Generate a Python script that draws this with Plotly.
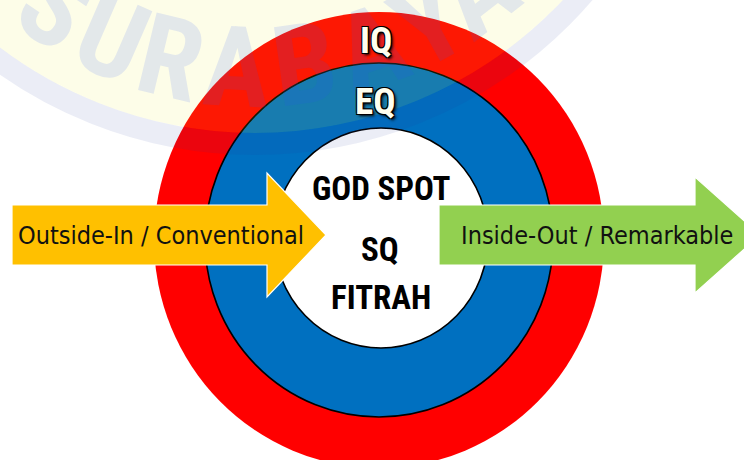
import plotly.graph_objects as go
import math

# ---------------- data ----------------
ring_labels = ["IQ", "EQ"]
core_labels = ["GOD SPOT", "SQ", "FITRAH"]
ring_colors = ["#FF0000", "#0070C0", "#FFFFFF"]
arrow_labels = ["Outside-In / Conventional", "Inside-Out / Remarkable"]
arrow_colors = ["#FFC000", "#92D050"]
watermark_letters = list("SURABAYA")

# ---------------- geometry (pixel space of the 744x460 view) ----------------
W, H = 744, 460
ring_cx = [379, 379, 381]
ring_cy = [240, 240, 238]
ring_rx = [225, 174, 107]
ring_ry = [228, 177, 110]
ring_line = [0, 1.6, 1.6]

# arrows: body left, head base, tip, body half height, head half height, center y
arrow_body_x0 = [12, 439]
arrow_head_x0 = [267, 695]
arrow_tip_x = [326, 760]
arrow_body_h = [30, 30]
arrow_head_h = [62, 58]
arrow_cy = [235, 235]
arrow_text_x = [161, 597]

ring_text_xy = [(376, 40), (375, 101)]
core_text_xy = [(381, 188), (380, 249), (381, 297)]

wm_cx, wm_cy = 255, -290
wm_fill_r, wm_band_r, wm_band = 423, 434, 22
wm_letter_r = 358
wm_angles = [-34, -23.5, -13.5, -3, 8, 19, 29, 38]

FONT_CORE = "Liberation Sans Narrow, Noto Sans ExtraCondensed, Noto Sans Condensed, Roboto Condensed, DejaVu Sans Condensed, sans-serif"
FONT_ARROW = "DejaVu Sans Condensed, Noto Sans, sans-serif"

shapes = []
annotations = []

# rings
for cx, cy, rx, ry, col, lw in zip(ring_cx, ring_cy, ring_rx, ring_ry, ring_colors, ring_line):
    shapes.append(dict(type="circle", xref="x", yref="y",
                       x0=cx - rx, x1=cx + rx, y0=cy - ry, y1=cy + ry,
                       fillcolor=col, line=dict(color="#000000", width=lw) if lw else dict(width=0),
                       layer="above"))

# arrows
for bx, hx, tx, bh, hh, cy, col in zip(arrow_body_x0, arrow_head_x0, arrow_tip_x,
                                       arrow_body_h, arrow_head_h, arrow_cy, arrow_colors):
    pts = [(bx, cy - bh), (hx, cy - bh), (hx, cy - hh), (tx, cy), (hx, cy + hh), (hx, cy + bh), (bx, cy + bh)]
    path = "M " + " L ".join(f"{x},{y}" for x, y in pts) + " Z"
    shapes.append(dict(type="path", xref="x", yref="y", path=path, fillcolor=col,
                       line=dict(color="#FFFFFF", width=1.2), layer="above"))

# translucent watermark on top
shapes.append(dict(type="circle", xref="x", yref="y",
                   x0=wm_cx - wm_fill_r, x1=wm_cx + wm_fill_r, y0=wm_cy - wm_fill_r, y1=wm_cy + wm_fill_r,
                   fillcolor="rgba(240,232,32,0.1)", line=dict(width=0), layer="above"))
shapes.append(dict(type="circle", xref="x", yref="y",
                   x0=wm_cx - wm_band_r, x1=wm_cx + wm_band_r, y0=wm_cy - wm_band_r, y1=wm_cy + wm_band_r,
                   fillcolor="rgba(0,0,0,0)", line=dict(color="rgba(30,60,160,0.09)", width=wm_band),
                   layer="above"))
for ch, ang in zip(watermark_letters, wm_angles):
    t = math.radians(ang)
    lx = wm_cx + wm_letter_r * math.sin(t)
    ly = wm_cy + wm_letter_r * math.cos(t)
    ysh = 0
    if ly < 2:  # keep the anchor inside the axis range, shift the text instead
        ysh = 2 - ly
        ly = 2
    annotations.append(dict(x=lx, y=ly, yshift=ysh, xref="x", yref="y", text="<b>" + ch + "</b>",
                            showarrow=False, textangle=-ang, xanchor="center", yanchor="middle",
                            font=dict(family=FONT_CORE, size=112, color="rgba(40,80,255,0.12)")))

# texts
shadow = "1px 1px 0 #000, -1px -1px 0 #000, 1px -1px 0 #000, -1px 1px 0 #000, 2px 2px 3px #000"
for lab, (x, y) in zip(ring_labels, ring_text_xy):
    annotations.append(dict(x=x, y=y, xref="x", yref="y", text="<b>" + lab + "</b>", showarrow=False,
                            xanchor="center", yanchor="middle",
                            font=dict(family=FONT_CORE, size=37, color="#FFFFF0", shadow=shadow)))
for lab, (x, y) in zip(core_labels, core_text_xy):
    annotations.append(dict(x=x, y=y, xref="x", yref="y", text="<b>" + lab + "</b>", showarrow=False,
                            xanchor="center", yanchor="middle",
                            font=dict(family=FONT_CORE, size=33, color="#000000")))
for lab, x, cy in zip(arrow_labels, arrow_text_x, arrow_cy):
    annotations.append(dict(x=x, y=cy, xref="x", yref="y", text=lab, showarrow=False,
                            xanchor="center", yanchor="middle",
                            font=dict(family=FONT_ARROW, size=25, color="#111111")))

fig = go.Figure()
fig.add_trace(go.Scatter(x=[0, W], y=[0, H], mode="markers", marker=dict(opacity=0), hoverinfo="skip",
                         showlegend=False))
fig.update_layout(
    width=W, height=H, margin=dict(l=0, r=0, t=0, b=0),
    paper_bgcolor="#FFFFFF", plot_bgcolor="#FFFFFF",
    xaxis=dict(range=[0, W], visible=False, fixedrange=True),
    yaxis=dict(range=[H, 0], visible=False, fixedrange=True),
    shapes=shapes, annotations=annotations, showlegend=False,
)
fig.write_html("out.html", config={"displayModeBar": False},
               post_script="document.body.style.margin='0';document.body.style.overflow='hidden';")
